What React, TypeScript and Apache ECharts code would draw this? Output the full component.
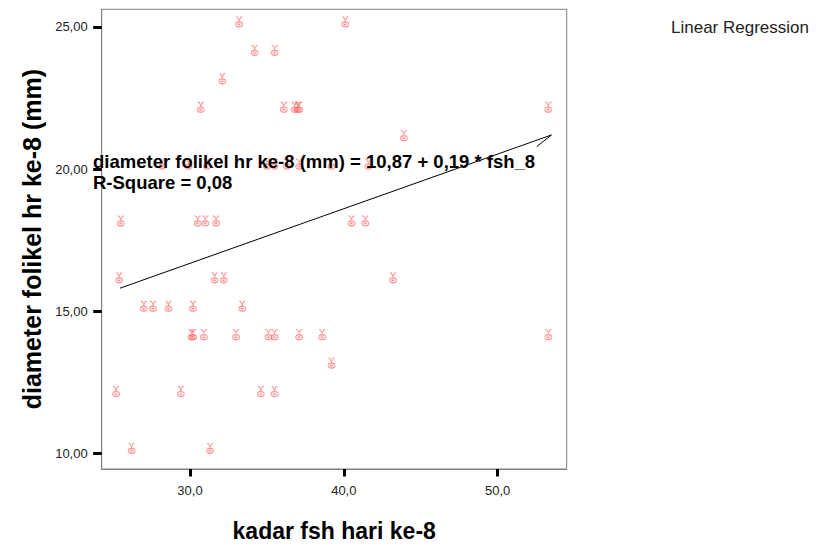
import React, { useEffect, useRef } from "react";
import * as echarts from "echarts";

// fsh (x) and follicle diameter (y)
const fshValues: number[] = [
  33.2, 40.1,
  34.2, 35.5,
  32.1,
  30.7, 36.1, 36.8, 37.0, 37.1, 53.3,
  43.9,
  28.2, 29.9, 31.1, 35.0, 35.5, 36.3, 37.1, 39.2, 41.6,
  25.5, 30.5, 31.0, 31.7, 40.5, 41.4,
  25.4, 31.6, 32.2, 43.2,
  27.0, 27.6, 28.6, 30.2, 33.4,
  30.1, 30.2, 30.9, 33.0, 35.1, 35.5, 37.1, 38.6, 53.3,
  39.2,
  25.2, 29.4, 34.6, 35.5,
  26.2, 31.3,
];
const diameterValues: number[] = [
  25, 25,
  24, 24,
  23,
  22, 22, 22, 22, 22, 22,
  21,
  20, 20, 20, 20, 20, 20, 20, 20, 20,
  18, 18, 18, 18, 18, 18,
  16, 16, 16, 16,
  15, 15, 15, 15, 15,
  14, 14, 14, 14, 14, 14, 14, 14, 14,
  13,
  12, 12, 12, 12,
  10, 10,
];

// fit line end points
const fitLineX: number[] = [25.45, 53.5];
const fitLineY: number[] = [15.81, 21.2];
const connectorX: number[] = [52.54, 53.5];
const connectorY: number[] = [20.79, 21.2];

const xTicks: number[] = [30, 40, 50];
const yTicks: number[] = [10, 15, 20, 25];

const equationText = "diameter folikel hr ke-8 (mm) = 10,87 + 0,19 * fsh_8";
const rSquareText = "R-Square = 0,08";
const legendText = "Linear Regression";
const xTitle = "kadar fsh hari ke-8";
const yTitle = "diameter folikel hr ke-8 (mm)";

const markerPath =
  "path://M2,0 L3.5,0.5 L5.5,6.5 M8,0 L6.5,0.5 L4.5,6.5 M5,7 C2.5,7 1.5,8.5 1.5,10.5 C1.5,12.5 3,14 5,14 C7,14 8.5,12.5 8.5,10.5 C8.5,8.5 7.5,7 5,7 Z M3.5,10.5 L6,10.5";

export default function App() {
  const ref = useRef<HTMLDivElement>(null);
  useEffect(() => {
    if (!ref.current) return;
    const chart = echarts.init(ref.current, null, { renderer: "svg" });
    const points = fshValues.map((x, i) => [x, diameterValues[i]]);
    const font = "Arial, 'Liberation Sans', sans-serif";
    chart.setOption({
      animation: false,
      backgroundColor: "#ffffff",
      grid: {
        left: 101.7,
        top: 9.3,
        right: 249.3,
        bottom: 74.3,
        show: true,
        borderColor: "#7f7f7f",
        borderWidth: 1,
        backgroundColor: "transparent",
      },
      xAxis: {
        type: "value",
        min: 24.26,
        max: 54.49,
        name: xTitle,
        nameLocation: "middle",
        nameGap: 50,
        nameTextStyle: { fontFamily: font, fontSize: 23, fontWeight: "bold", color: "#000" },
        axisLine: { show: true, lineStyle: { color: "#7f7f7f", width: 1 } },
        axisTick: { show: true, length: 7.5, lineStyle: { color: "#000", width: 3 }, customValues: xTicks },
        axisLabel: {
          customValues: xTicks,
          margin: 15,
          fontFamily: font,
          fontSize: 13,
          color: "#222",
          formatter: (v: number) => v.toFixed(1).replace(".", ","),
        },
        splitLine: { show: false },
      },
      yAxis: {
        type: "value",
        min: 9.45,
        max: 25.62,
        name: yTitle,
        nameLocation: "middle",
        nameGap: 56,
        nameTextStyle: { fontFamily: font, fontSize: 25, fontWeight: "bold", color: "#000" },
        axisLine: { show: true, lineStyle: { color: "#7f7f7f", width: 1 } },
        axisTick: { show: true, length: 8.5, lineStyle: { color: "#000", width: 3 }, customValues: yTicks },
        axisLabel: {
          customValues: yTicks,
          margin: 14,
          fontFamily: font,
          fontSize: 13,
          color: "#222",
          formatter: (v: number) => v.toFixed(2).replace(".", ","),
        },
        splitLine: { show: false },
      },
      series: [
        {
          type: "scatter",
          data: points,
          symbol: markerPath,
          symbolSize: [7, 10],
          symbolOffset: [0, -5],
          itemStyle: {
            color: "rgba(255,110,110,0.18)",
            borderColor: "rgba(255,70,70,0.7)",
            borderWidth: 1,
          },
          z: 2,
        },
        {
          type: "line",
          name: legendText,
          data: fitLineX.map((x, i) => [x, fitLineY[i]]),
          symbol: "none",
          lineStyle: { color: "#000", width: 1 },
          z: 3,
        },
        {
          type: "line",
          data: connectorX.map((x, i) => [x, connectorY[i]]),
          symbol: "none",
          lineStyle: { color: "#000", width: 1 },
          z: 3,
        },
      ],
      graphic: [
        {
          type: "text",
          left: 93,
          top: 151,
          z: 100,
          style: {
            text: equationText + "\n" + rSquareText,
            fontFamily: font,
            fontSize: 18.5,
            fontWeight: "bold",
            lineHeight: 21,
            fill: "#000",
          },
        },
        {
          type: "text",
          left: 671,
          top: 19,
          z: 100,
          style: {
            text: legendText,
            fontFamily: font,
            fontSize: 17,
            fill: "#222",
          },
        },
      ],
    });
    return () => chart.dispose();
  }, []);
  return (
    <div
      ref={ref}
      style={{ position: "fixed", left: 0, top: 0, width: 816, height: 547, background: "#fff" }}
    />
  );
}
